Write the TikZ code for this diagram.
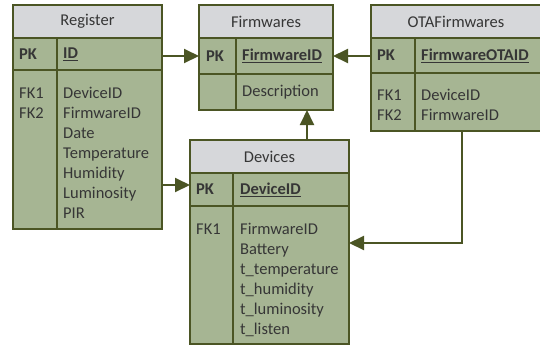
\documentclass[tikz,border=0pt]{standalone}
\usepackage{fontspec}
\setmainfont{Carlito}
\usepackage{tikz}
\usetikzlibrary{positioning,arrows.meta}

\definecolor{olivedark}{HTML}{4B5524}
\definecolor{sage}{HTML}{A6B593}
\definecolor{headgray}{HTML}{D6D7DA}
\definecolor{txtgray}{HTML}{363636}

\begin{document}
\begin{tikzpicture}[x=1pt,y=-1pt,
    cell/.style={draw=olivedark,line width=1.4pt,fill=sage,anchor=north west,inner sep=0pt,outer sep=0pt},
    head/.style={cell,fill=headgray,text=txtgray,font=\fontsize{16.5}{20}\selectfont},
    txt/.style={text=txtgray,inner sep=0pt,align=left,font=\fontsize{16.5}{20}\selectfont},
    fk/.style={draw=olivedark,line width=2pt,-{Triangle[length=15pt,width=14pt]}}]
    \useasboundingbox (0,0) rectangle (540,349);

    % Register
    \node[head,minimum width=149pt,minimum height=33pt] (reg-t) at (13,5) {Register};
    \node[cell,minimum width=44pt,minimum height=32pt] (reg-pkk) at (13,38) {};
    \node[cell,minimum width=105pt,minimum height=32pt] (reg-pkf) at (57,38) {};
    \node[cell,minimum width=44pt,minimum height=159pt] (reg-bk) at (13,70) {};
    \node[cell,minimum width=105pt,minimum height=159pt] (reg-bf) at (57,70) {};
    \node[txt,anchor=west,right=6pt of reg-pkk.west] (reg-pk) {\textbf{PK}};
    \node[txt,anchor=west,right=6pt of reg-pkf.west] (reg-id) {\textbf{\underline{ID}}};
    \node[txt,below right=14pt and 6pt of reg-bk.north west] (reg-keys) {\strut FK1\\FK2};
    \node[txt,below right=14pt and 6pt of reg-bf.north west] (reg-fields) {\strut DeviceID\\FirmwareID\\Date\\Temperature\\Humidity\\Luminosity\\PIR};

    % Firmwares
    \node[head,minimum width=134pt,minimum height=33pt] (fw-t) at (199,5) {Firmwares};
    \node[cell,minimum width=37pt,minimum height=36pt] (fw-pkk) at (199,38) {};
    \node[cell,minimum width=97pt,minimum height=36pt] (fw-pkf) at (236,38) {};
    \node[cell,minimum width=37pt,minimum height=36pt] (fw-bk) at (199,74) {};
    \node[cell,minimum width=97pt,minimum height=36pt] (fw-bf) at (236,74) {};
    \node[txt,anchor=west,right=7pt of fw-pkk.west] (fw-pk) {\textbf{PK}};
    \node[txt,anchor=west,right=6pt of fw-pkf.west] (fw-id) {\textbf{\underline{FirmwareID}}};
    \node[txt,anchor=west,right=6pt of fw-bf.west] (fw-desc) {Description};

    % OTAFirmwares
    \node[head,minimum width=170pt,minimum height=33pt] (ota-t) at (371,5) {OTAFirmwares};
    \node[cell,minimum width=44pt,minimum height=35pt] (ota-pkk) at (371,38) {};
    \node[cell,minimum width=126pt,minimum height=35pt] (ota-pkf) at (415,38) {};
    \node[cell,minimum width=44pt,minimum height=58pt] (ota-bk) at (371,73) {};
    \node[cell,minimum width=126pt,minimum height=58pt] (ota-bf) at (415,73) {};
    \node[txt,anchor=west,right=6pt of ota-pkk.west] (ota-pk) {\textbf{PK}};
    \node[txt,anchor=west,right=6pt of ota-pkf.west] (ota-id) {\textbf{\underline{FirmwareOTAID}}};
    \node[txt,below right=13pt and 6pt of ota-bk.north west] (ota-keys) {\strut FK1\\FK2};
    \node[txt,below right=13pt and 6pt of ota-bf.north west] (ota-fields) {\strut DeviceID\\FirmwareID};

    % Devices
    \node[head,minimum width=159pt,minimum height=33pt] (dev-t) at (190,140) {Devices};
    \node[cell,minimum width=43pt,minimum height=33pt] (dev-pkk) at (190,173) {};
    \node[cell,minimum width=116pt,minimum height=33pt] (dev-pkf) at (233,173) {};
    \node[cell,minimum width=43pt,minimum height=138pt] (dev-bk) at (190,206) {};
    \node[cell,minimum width=116pt,minimum height=138pt] (dev-bf) at (233,206) {};
    \node[txt,anchor=west,right=6pt of dev-pkk.west] (dev-pk) {\textbf{PK}};
    \node[txt,anchor=west,right=7pt of dev-pkf.west] (dev-id) {\textbf{\underline{DeviceID}}};
    \node[txt,below right=14pt and 6pt of dev-bk.north west] (dev-keys) {\strut FK1};
    \node[txt,below right=14pt and 7pt of dev-bf.north west] (dev-fields) {\strut FirmwareID\\Battery\\t\_temperature\\t\_humidity\\t\_luminosity\\t\_listen};

    % relations
    \draw[fk] (fw-pkk.west -| reg-pkf.east) -- (fw-pkk.west);
    \draw[fk] ([yshift=4.5pt]dev-pkk.west -| reg-bf.east) -- ([yshift=4.5pt]dev-pkk.west);
    \draw[fk] (fw-pkf.east -| ota-pkk.west) -- (fw-pkf.east);
    \draw[fk] ([xshift=-26pt]fw-bf.south east |- dev-t.north) -- ([xshift=-26pt]fw-bf.south east);
    \draw[fk] ([xshift=-16pt]ota-bf.south) |- ([yshift=32pt]dev-bf.east);
\end{tikzpicture}
\end{document}
